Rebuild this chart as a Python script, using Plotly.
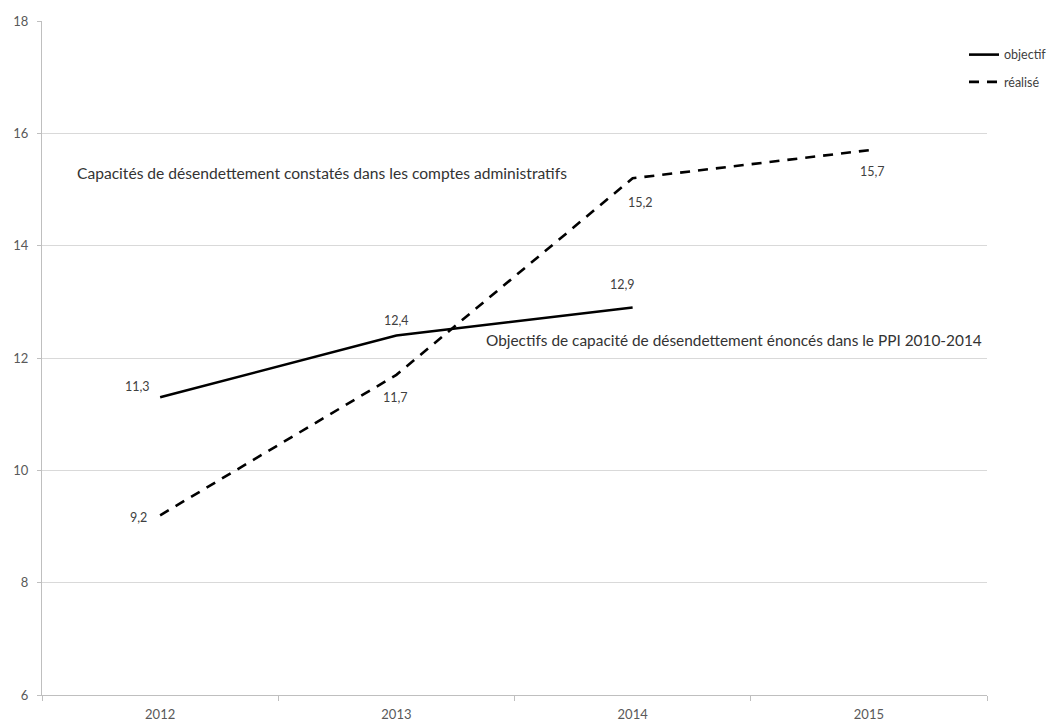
import plotly.graph_objects as go

years = [2012, 2013, 2014, 2015]
objectif = [11.3, 12.4, 12.9]
realise = [9.2, 11.7, 15.2, 15.7]
obj_labels = ["11,3", "12,4", "12,9"]
real_labels = ["9,2", "11,7", "15,2", "15,7"]
y_ticks = [6, 8, 10, 12, 14, 16, 18]

FONT = "Lato"
fig = go.Figure()
fig.add_trace(go.Scatter(x=years[:3], y=objectif, mode="lines", name="objectif",
                         legendgroup="a",
                         line=dict(color="#000000", width=2.6)))
fig.add_trace(go.Scatter(x=years, y=realise, mode="lines", name="réalisé",
                         legendgroup="b",
                         line=dict(color="#000000", width=2.6, dash="10px,8px")))

# data labels (offsets in pixels)
obj_off = [(-23, 11), (0, 15), (-10, 23)]
real_off = [(-22, -2), (-1, -23), (8, -24), (4, -21)]
for xv, yv, t, (dx, dy) in zip(years, objectif, obj_labels, obj_off):
    fig.add_annotation(x=xv, y=yv, text=t, showarrow=False, xshift=dx, yshift=dy,
                       font=dict(family=FONT, size=12.5, color="#404040"))
for xv, yv, t, (dx, dy) in zip(years, realise, real_labels, real_off):
    fig.add_annotation(x=xv, y=yv, text=t, showarrow=False, xshift=dx, yshift=dy,
                       font=dict(family=FONT, size=12.5, color="#404040"))

fig.add_annotation(x=(75 - 42) / 945, xref="paper", y=15.29, yref="y", xanchor="left",
                   text="Capacités de désendettement constatés dans les comptes administratifs",
                   showarrow=False, font=dict(family=FONT, size=15.6, color="#333333"))
fig.add_annotation(x=(484 - 42) / 945, xref="paper", y=12.32, yref="y", xanchor="left",
                   text="Objectifs de capacité de désendettement énoncés dans le PPI 2010-2014",
                   showarrow=False, font=dict(family=FONT, size=15.4, color="#333333"))

fig.update_layout(
    width=1059, height=722,
    margin=dict(l=42, r=72, t=21, b=26.5, autoexpand=False),
    plot_bgcolor="white", paper_bgcolor="white",
    font=dict(family=FONT, size=13, color="#595959"),
    showlegend=True,
    legend=dict(x=(964 - 42) / 945, xanchor="left", y=1 - (40 - 21) / 674.5, yanchor="top",
                font=dict(family=FONT, size=12.5, color="#404040"),
                bgcolor="rgba(0,0,0,0)", tracegroupgap=8),
    xaxis=dict(range=[2011.5, 2015.5], tickvals=years, ticktext=[str(y) for y in years],
               showgrid=False, showline=True, linecolor="#bfbfbf", linewidth=1,
               ticks="", ticklabelstandoff=7, zeroline=False,
               minor=dict(tick0=2011.5, dtick=1, ticks="outside", ticklen=5,
                          tickcolor="#bfbfbf", showgrid=False)),
    yaxis=dict(range=[6, 18], tickvals=y_ticks, ticktext=[str(v) for v in y_ticks],
               showgrid=True, gridcolor="#d9d9d9", gridwidth=1,
               showline=True, linecolor="#bfbfbf", linewidth=1,
               ticks="outside", ticklen=4, tickcolor="#bfbfbf",
               ticklabelstandoff=6, zeroline=False),
)
fig.write_html("out.html")
